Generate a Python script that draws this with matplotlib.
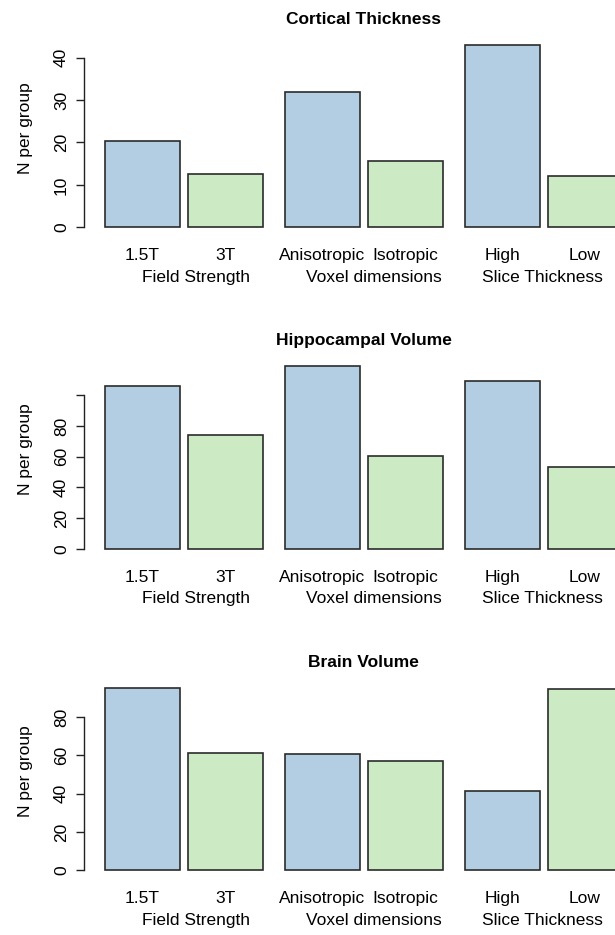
import matplotlib
matplotlib.use("Agg")
import matplotlib.pyplot as plt

plt.rcParams["font.family"] = ["Liberation Sans", "DejaVu Sans"]

PANELS = ["Cortical Thickness", "Hippocampal Volume", "Brain Volume"]
BAR_NAMES = ["1.5T", "3T", "Anisotropic", "Isotropic", "High", "Low"]
GROUP_NAMES = ["Field Strength", "Voxel dimensions", "Slice Thickness"]

cortical = [20.3, 12.5, 32.0, 15.7, 43.0, 12.0]
hippocampal = [106.0, 74.0, 118.9, 60.7, 109.2, 53.1]
brain = [95.3, 61.5, 60.6, 57.3, 41.2, 94.7]
VALUES = [cortical, hippocampal, brain]

# y tick step and the last tick drawn; labels above LAST_LABEL are dropped (as R does)
TICK_STEP = [10, 20, 20]
TICK_TOP = [40, 100, 80]
LAST_LABEL = [40, 80, 80]

BLUE = "#B3CDE3"
GREEN = "#CCEBC5"
EDGE = "#2b2b2b"

# bar layout in R barplot units: width 1, 0.1 gap inside a group, 0.3 between groups
LEFTS = [0.0, 1.1, 2.4, 3.5, 4.8, 5.9]
GROUP_X = [1.21, 3.59, 5.83]

W, H = 615, 935
fig = plt.figure(figsize=(W / 100, H / 100), dpi=100)

region_left = 84.3
region_right = 643.2
region_h = 199.0
bottoms = [236.5, 558.0, 879.5]

span = LEFTS[-1] + 1 - LEFTS[0]
xlo = LEFTS[0] - 0.04 * span
xhi = LEFTS[-1] + 1 + 0.04 * span

for i, title in enumerate(PANELS):
    vals = VALUES[i]
    ax = fig.add_axes([region_left / W, 1 - bottoms[i] / H,
                       (region_right - region_left) / W, region_h / H])
    centers = [l + 0.5 for l in LEFTS]
    colors = [BLUE, GREEN] * 3
    ax.bar(centers, vals, width=1.0, color=colors, edgecolor=EDGE, linewidth=1.2)

    # same y range rule as R barplot: c(-0.01*max, max), widened by 4%
    hi = max(vals)
    lo = -0.01 * hi
    ext = 0.04 * (hi - lo)
    ax.set_ylim(lo - ext, hi + ext)
    ax.set_xlim(xlo, xhi)

    ticks = list(range(0, TICK_TOP[i] + 1, TICK_STEP[i]))
    ax.set_yticks(ticks)
    ax.set_yticklabels([str(t) if t <= LAST_LABEL[i] else "" for t in ticks],
                       rotation=90, va="center", fontsize=12.5)
    ax.tick_params(axis="y", direction="out", length=6, width=1.0,
                   color="#222222", pad=5)
    ax.spines["left"].set_bounds(0, TICK_TOP[i])
    ax.spines["left"].set_linewidth(1.0)
    ax.spines["left"].set_color("#222222")
    for s in ["top", "right", "bottom"]:
        ax.spines[s].set_visible(False)
    ax.set_xticks([])

    ax.text(-0.106, 0.547, "N per group", transform=ax.transAxes, rotation=90,
            ha="center", va="center", fontsize=12.5)

    ax.set_title(title, fontsize=12.5, fontweight="bold", pad=10)

    for c, name in zip(centers, BAR_NAMES):
        ax.annotate(name, xy=(c, 0), xycoords=("data", "axes fraction"),
                    xytext=(0, -14), textcoords="offset points",
                    ha="center", va="center", fontsize=12.5,
                    annotation_clip=False)
    for gx, name in zip(GROUP_X, GROUP_NAMES):
        ax.annotate(name, xy=(gx, 0), xycoords=("data", "axes fraction"),
                    xytext=(0, -29.5), textcoords="offset points",
                    ha="center", va="center", fontsize=12.5,
                    annotation_clip=False)

fig.savefig("out.png", dpi=100)
